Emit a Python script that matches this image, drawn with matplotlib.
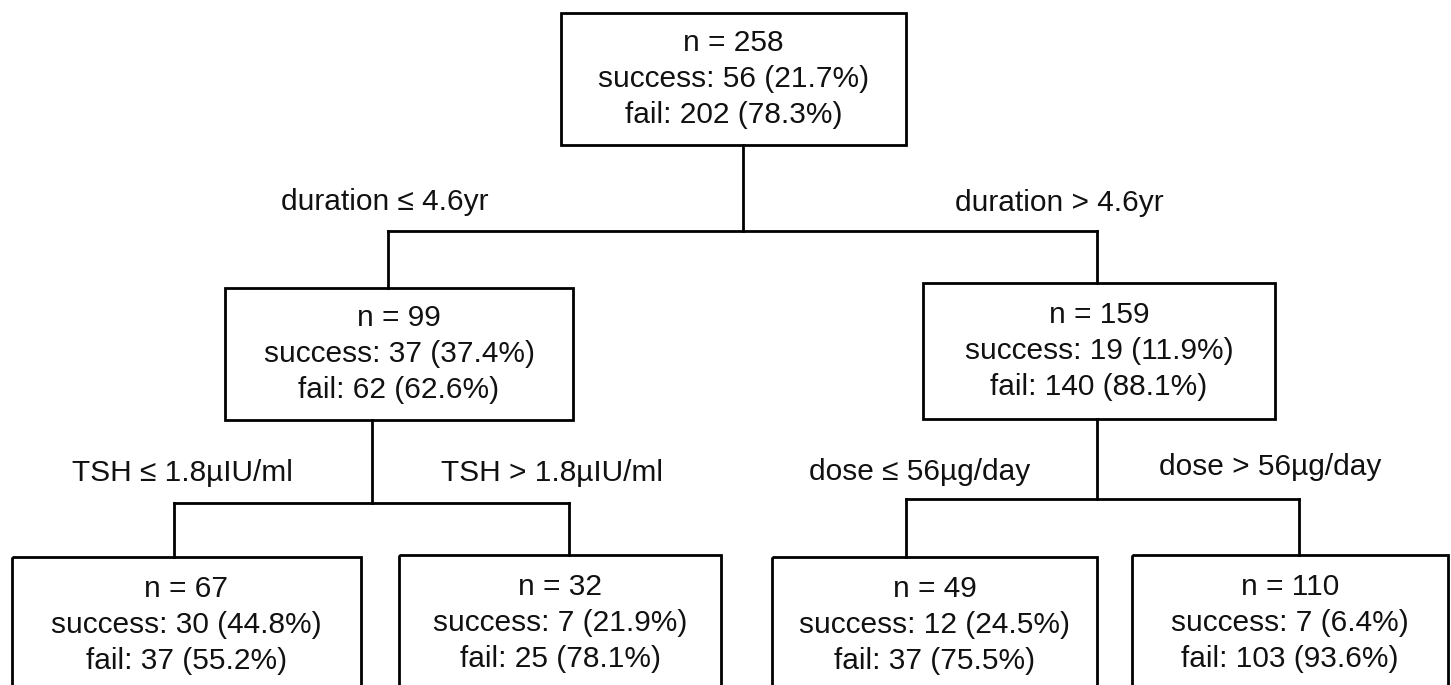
import matplotlib.pyplot as plt
from matplotlib.patches import Rectangle

plt.rcParams['font.family'] = ['Liberation Sans', 'DejaVu Sans']

# Tree data (root, left, right, then the four leaves)
node_n = [258, 99, 159, 67, 32, 49, 110]
node_success = [56, 37, 19, 30, 7, 12, 7]
node_success_pct = [21.7, 37.4, 11.9, 44.8, 21.9, 24.5, 6.4]
node_fail = [202, 62, 140, 37, 25, 37, 103]
node_fail_pct = [78.3, 62.6, 88.1, 55.2, 78.1, 75.5, 93.6]
split_labels = ["duration \u2264 4.6yr", "duration > 4.6yr",
                "TSH \u2264 1.8\u00b5IU/ml", "TSH > 1.8\u00b5IU/ml",
                "dose \u2264 56\u00b5g/day", "dose > 56\u00b5g/day"]
children = {0: (1, 2), 1: (3, 4), 2: (5, 6)}

# layout in pixel coordinates (x0, x1, y0, y1), y downward
boxes = [
    (561, 906, 13, 145),
    (225, 573, 288, 420),
    (923, 1275, 283, 419),
    (12, 361, 557, 720),
    (399, 721, 555, 720),
    (772, 1097, 557, 720),
    (1132, 1448, 555, 720),
]
# parent stem x, connector y, child entry x's
connectors = {
    0: (743, 231, (388, 1097)),
    1: (372, 503, (174, 569)),
    2: (1097, 499, (906, 1299)),
}
label_pos = [(385, 202), (1059, 203), (182, 473), (552, 473), (920, 472), (1270, 467)]

fig = plt.figure(figsize=(14.51, 6.85), dpi=100)
ax = fig.add_axes([0, 0, 1, 1])
ax.set_xlim(0, 1451)
ax.set_ylim(685, 0)
ax.axis('off')

lw = 2.0
fs = 21.5

for i, (x0, x1, y0, y1) in enumerate(boxes):
    ax.add_patch(Rectangle((x0, y0), x1 - x0, y1 - y0, fill=False,
                           edgecolor='black', linewidth=lw, zorder=2))
    cx = (x0 + x1) / 2
    if i < 3:
        cy = (y0 + y1) / 2
    else:
        cy = y0 + 68
    lines = [f"n = {node_n[i]}",
             f"success: {node_success[i]} ({node_success_pct[i]}%)",
             f"fail: {node_fail[i]} ({node_fail_pct[i]}%)"]
    for k, s in enumerate(lines):
        ax.text(cx, cy + (k - 1) * 36, s, ha='center', va='center',
                fontsize=fs, color='#111111')

for p, (c1, c2) in children.items():
    sx, hy, (ex1, ex2) = connectors[p]
    ax.plot([sx, sx], [boxes[p][3], hy], color='black', lw=lw, solid_capstyle='projecting')
    ax.plot([ex1, ex2], [hy, hy], color='black', lw=lw, solid_capstyle='projecting')
    ax.plot([ex1, ex1], [hy, boxes[c1][2]], color='black', lw=lw, solid_capstyle='projecting')
    ax.plot([ex2, ex2], [hy, boxes[c2][2]], color='black', lw=lw, solid_capstyle='projecting')

for lab, (x, y) in zip(split_labels, label_pos):
    ax.text(x, y, lab, ha='center', va='center', fontsize=fs, color='#111111')

fig.savefig('out.png', dpi=100, facecolor='white')
